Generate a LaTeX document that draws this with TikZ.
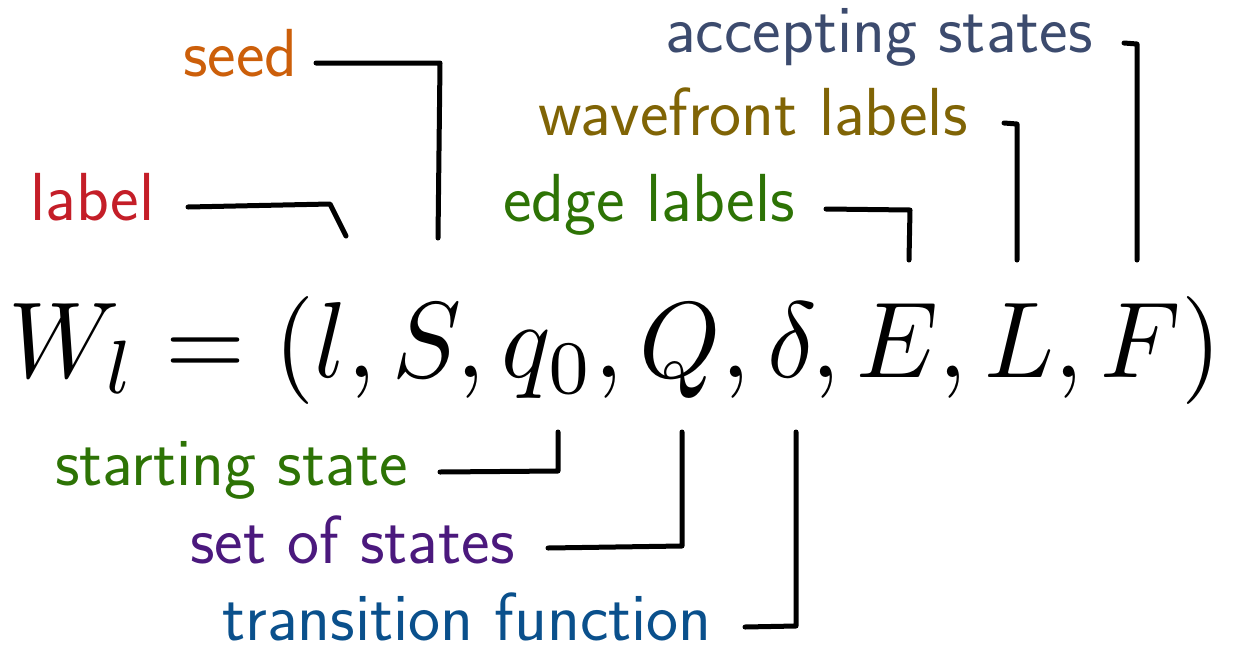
\documentclass[tikz,border=0pt]{standalone}
\usepackage{fontspec}
\definecolor{cLabel}{RGB}{196,30,40}
\definecolor{cSeed}{RGB}{204,95,10}
\definecolor{cEdge}{RGB}{45,115,5}
\definecolor{cWave}{RGB}{128,100,5}
\definecolor{cAcc}{RGB}{60,75,110}
\definecolor{cStart}{RGB}{45,115,5}
\definecolor{cSet}{RGB}{75,25,125}
\definecolor{cTrans}{RGB}{10,80,140}
\tikzset{
  lbl/.style={anchor=base west, inner sep=0pt, font=\sffamily\fontsize{68}{80}\selectfont},
  con/.style={line width=5pt, line cap=round, line join=round, black}
}
\begin{document}
\begin{tikzpicture}[x=1pt,y=-1pt]
\useasboundingbox (0,0) rectangle (1240,646);
\node[anchor=base west, inner sep=0pt] (eq) at (8,377) {\scalebox{10.3}[10.8]{$W_l = (l, S, q_0, Q, \delta, E, L, F)$}};
\node[lbl, text=cLabel] (label) at (30,220) {label};
\node[lbl, text=cSeed] (seed) at (183,76) {seed};
\node[lbl, text=cEdge] (edge) at (503,221) {edge labels};
\node[lbl, text=cWave] (wave) at (538,135) {wavefront labels};
\node[lbl, text=cAcc] (acc) at (665,52) {accepting states};
\node[lbl, text=cStart] (start) at (55,485) {starting state};
\node[lbl, text=cSet] (set) at (190,563) {set of states};
\node[lbl, text=cTrans] (trans) at (222,640) {transition function};
\coordinate (pl) at (346,236);
\coordinate (pS) at (438,238);
\coordinate (pE) at (909,260);
\coordinate (pL) at (1017,260);
\coordinate (pF) at (1137,260);
\coordinate (pq) at (558,432);
\coordinate (pQ) at (682,432);
\coordinate (pd) at (796,432);
\draw[con] (188,207) -- (330,204) -- (pl);
\draw[con] (316,63) -- (440,63) -- (pS);
\draw[con] (826,209) -- (910,210) -- (pE);
\draw[con] (1004,123) -- (1017,124) -- (pL);
\draw[con] (1124,43) -- (1137,44) -- (pF);
\draw[con] (440,472) -- (558,471) -- (pq);
\draw[con] (548,548) -- (682,546) -- (pQ);
\draw[con] (745,627) -- (796,626) -- (pd);
\end{tikzpicture}
\end{document}
